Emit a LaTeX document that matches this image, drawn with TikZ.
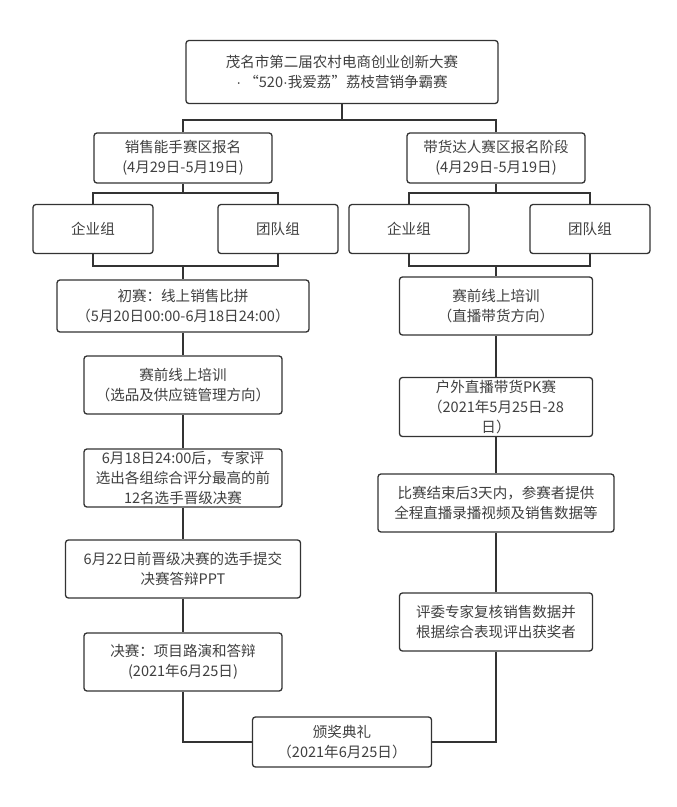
\documentclass[tikz,border=0pt]{standalone}
\usepackage{fontspec}
\setmainfont{Noto Sans CJK SC}
\newfontfamily\latinfont{Liberation Sans}
\usepackage{tikz}

\newlength\pxu
\setlength\pxu{0.03cm}
\definecolor{boxline}{HTML}{333333}
\definecolor{boxtext}{HTML}{404040}
\newcommand\middot{{\latinfont ·}}

\tikzset{
  stagebox/.style={draw=boxline, line width=1.1pt, rounded corners=2.5pt,
    fill=white, align=center, inner sep=0pt, text=boxtext,
    font=\fontsize{12.4}{17}\selectfont},
  link/.style={draw=boxline, line width=1.1pt}
}

\begin{document}
\begin{tikzpicture}[x=0.03cm, y=-0.03cm]
    \useasboundingbox (0,0) rectangle (677,807);

    % Title box at the top
    \node[stagebox, minimum width=312\pxu, minimum height=63\pxu] (title) at (342,72)
      {茂名市第二届农村电商创业创新大赛\\\middot\ “520\middot 我爱荔”荔枝营销争霸赛};

    % Two registration boxes
    \node[stagebox, minimum width=178\pxu, minimum height=50\pxu] (regL) at (183,158)
      {销售能手赛区报名\\(4月29日-5月19日)};
    \node[stagebox, minimum width=178\pxu, minimum height=50\pxu] (regR) at (496,158)
      {带货达人赛区报名阶段\\(4月29日-5月19日)};

    % Group boxes under each registration
    \node[stagebox, minimum width=120\pxu, minimum height=49\pxu] (grpL1) at (93,229) {企业组};
    \node[stagebox, minimum width=120\pxu, minimum height=49\pxu] (grpL2) at (278,229) {团队组};
    \node[stagebox, minimum width=120\pxu, minimum height=49\pxu] (grpR1) at (409,229) {企业组};
    \node[stagebox, minimum width=120\pxu, minimum height=49\pxu] (grpR2) at (590,229) {团队组};

    % Left column: sales contest
    \node[stagebox, minimum width=252\pxu, minimum height=52\pxu] (prelim) at (183,306)
      {初赛：线上销售比拼\\（5月20日00:00-6月18日24:00）};
    \node[stagebox, minimum width=198\pxu, minimum height=58\pxu] (trainL) at (183,385)
      {赛前线上培训\\（选品及供应链管理方向）};
    \node[stagebox, minimum width=198\pxu, minimum height=58\pxu] (select) at (183,478)
      {6月18日24:00后，专家评\\选出各组综合评分最高的前\\12名选手晋级决赛};
    \node[stagebox, minimum width=235\pxu, minimum height=58\pxu] (submit) at (183,569)
      {6月22日前晋级决赛的选手提交\\决赛答辩PPT};
    \node[stagebox, minimum width=198\pxu, minimum height=58\pxu] (final) at (183,662)
      {决赛：项目路演和答辩\\(2021年6月25日)};

    % Right column: live selling contest
    \node[stagebox, minimum width=193\pxu, minimum height=58\pxu] (trainR) at (496,306)
      {赛前线上培训\\（直播带货方向）};
    \node[stagebox, minimum width=193\pxu, minimum height=59\pxu] (outdoor) at (496,407)
      {户外直播带货PK赛\\（2021年5月25日-28\\日）};
    \node[stagebox, minimum width=236\pxu, minimum height=58\pxu] (report) at (496,503)
      {比赛结束后3天内，参赛者提供\\全程直播录播视频及销售数据等};
    \node[stagebox, minimum width=193\pxu, minimum height=58\pxu] (judge) at (496,622)
      {评委专家复核销售数据并\\根据综合表现评出获奖者};

    % Award ceremony at the bottom
    \node[stagebox, minimum width=179\pxu, minimum height=50\pxu] (award) at (342,742)
      {颁奖典礼\\（2021年6月25日）};

    % Bus points for the elbow connectors
    \coordinate (busTop) at (342,120);
    \coordinate (busL) at (183,193);
    \coordinate (busL2) at (183,266);
    \coordinate (busR) at (496,193);
    \coordinate (busR2) at (496,266);

    % Title to both registrations
    \draw[link] (title.south) -- (busTop);
    \draw[link] (regL.north) |- (busTop) -| (regR.north);

    % Registrations to groups and back together
    \draw[link] (regL.south) -- (busL);
    \draw[link] (grpL1.north) |- (busL) -| (grpL2.north);
    \draw[link] (grpL1.south) |- (busL2) -| (grpL2.south);
    \draw[link] (busL2) -- (prelim.north);
    \draw[link] (regR.south) -- (busR);
    \draw[link] (grpR1.north) |- (busR) -| (grpR2.north);
    \draw[link] (grpR1.south) |- (busR2) -| (grpR2.south);
    \draw[link] (busR2) -- (trainR.north);

    % Left column chain
    \draw[link] (prelim.south) -- (trainL.north);
    \draw[link] (trainL.south) -- (select.north);
    \draw[link] (select.south) -- (submit.north);
    \draw[link] (submit.south) -- (final.north);
    \draw[link] (final.south) |- (award.west);

    % Right column chain
    \draw[link] (trainR.south) -- (outdoor.north);
    \draw[link] (outdoor.south) -- (report.north);
    \draw[link] (report.south) -- (judge.north);
    \draw[link] (judge.south) |- (award.east);
\end{tikzpicture}
\end{document}
